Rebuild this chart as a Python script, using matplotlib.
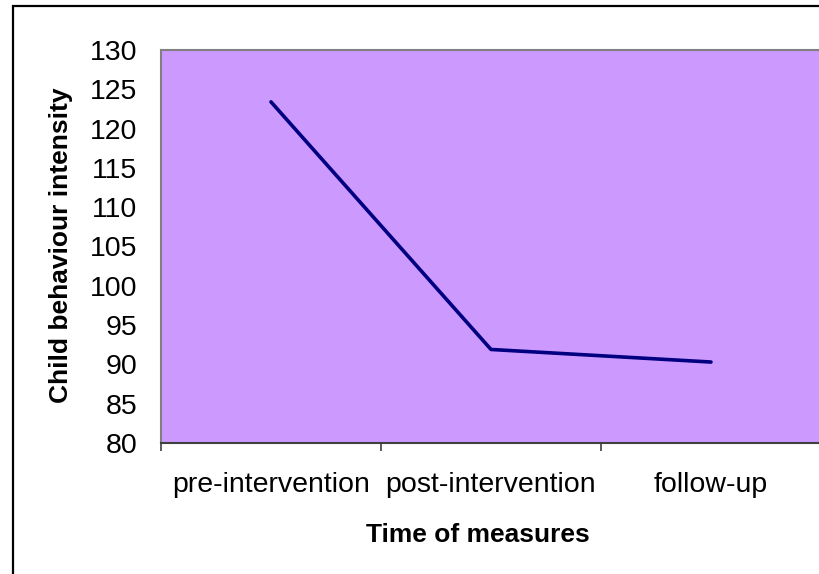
import numpy as np
import matplotlib.pyplot as plt
from matplotlib.patches import Rectangle

plt.rcParams['font.family'] = ['Liberation Sans', 'DejaVu Sans']

# mean child behaviour intensity at each measurement point
stages = ['pre-intervention', 'post-intervention', 'follow-up']
intensity = [123.4, 91.9, 90.3]
y_ticks = list(range(80, 131, 5))

fig = plt.figure(figsize=(8.2, 5.74), dpi=100)
ax = fig.add_axes([161 / 820, 1 - 443 / 574, 660 / 820, 393 / 574])
ax.set_facecolor('#CC99FF')

x = np.arange(len(stages))
ax.plot(x, intensity, color='#000080', linewidth=2.6, solid_capstyle='round')

ax.set_xlim(-0.5, len(stages) - 0.5)
ax.set_ylim(80, 130)
ax.set_yticks(y_ticks)
ax.set_yticklabels([str(v) for v in y_ticks], fontsize=20.5)
ax.tick_params(axis='y', length=0, pad=17)

# category boundaries carry the tick marks, labels sit in between
ax.set_xticks(np.arange(len(stages) + 1) - 0.5)
ax.set_xticklabels([])
ax.tick_params(axis='x', which='major', length=6, width=1.2, color='#404040', direction='out')
ax.set_xticks(x, minor=True)
ax.set_xticklabels(stages, minor=True, fontsize=20.5)
ax.tick_params(axis='x', which='minor', length=0, pad=21)

for side in ['left', 'top', 'right']:
    ax.spines[side].set_color('#808080')
    ax.spines[side].set_linewidth(1.5)
ax.spines['bottom'].set_color('#404040')
ax.spines['bottom'].set_linewidth(1.5)

fig.text(61 / 820, 1 - 245 / 574, 'Child behaviour intensity', rotation=90,
         ha='center', va='center', fontsize=19, fontweight='bold')
fig.text(478 / 820, 1 - 535 / 574, 'Time of measures', ha='center', va='center',
         fontsize=19, fontweight='bold')

# chart frame
fig.patches.append(Rectangle((13 / 820, -0.2), 1.1, 1.2 - 6 / 574,
                             transform=fig.transFigure, fill=False,
                             edgecolor='black', linewidth=1.6))

fig.savefig('out.png', dpi=100)
